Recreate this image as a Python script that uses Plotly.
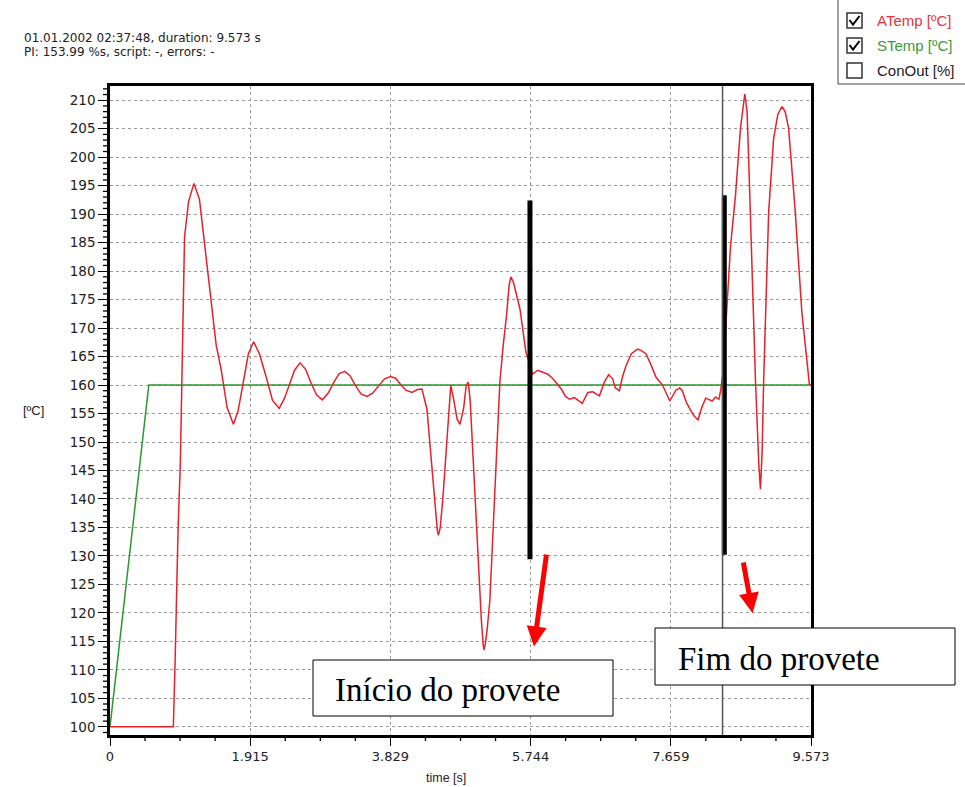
import plotly.graph_objects as go

# ---------------- data ----------------
atemp_t = [0, 0.865, 0.89, 0.93, 0.96, 0.99, 1.018, 1.073, 1.146, 1.222, 1.30, 1.381, 1.45, 1.517,
           1.60, 1.685, 1.75, 1.812, 1.89, 1.962, 2.04, 2.129, 2.22, 2.31, 2.38, 2.446, 2.52, 2.596,
           2.67, 2.741, 2.82, 2.90, 2.98, 3.058, 3.13, 3.207, 3.28, 3.353, 3.43, 3.512, 3.59, 3.670,
           3.75, 3.829, 3.90, 3.964, 4.04, 4.124, 4.20, 4.26, 4.30, 4.328, 4.36, 4.396, 4.44, 4.47,
           4.485, 4.51, 4.545, 4.577, 4.62, 4.654, 4.70, 4.74, 4.78, 4.83, 4.865, 4.893, 4.92, 4.953,
           4.99, 5.029, 5.07, 5.095, 5.107, 5.125, 5.15, 5.188, 5.23, 5.270, 5.324, 5.37, 5.415, 5.45,
           5.474, 5.51, 5.55, 5.598, 5.64, 5.679, 5.738, 5.769, 5.84, 5.913, 5.98, 6.049, 6.163, 6.22,
           6.276, 6.344, 6.40, 6.449, 6.525, 6.593, 6.684, 6.75, 6.81, 6.865, 6.90, 6.956, 7.00, 7.047,
           7.12, 7.205, 7.26, 7.319, 7.39, 7.455, 7.545, 7.60, 7.645, 7.727, 7.78, 7.816, 7.87, 7.931,
           7.98, 8.03, 8.08, 8.135, 8.18, 8.224, 8.27, 8.315, 8.339, 8.37, 8.415, 8.475, 8.542, 8.61,
           8.669, 8.70, 8.723, 8.768, 8.814, 8.859, 8.882, 8.905, 8.927, 8.995, 9.063, 9.12, 9.176,
           9.22, 9.267, 9.358, 9.448, 9.55, 9.573]
atemp_v = [100, 100, 112, 135, 146, 170, 186, 192.2, 195.4, 192.6, 184, 174.6, 167, 162.8,
           156, 153.1, 155.5, 159.9, 165.5, 167.6, 165.5, 161.6, 157.3, 155.9, 157.6, 159.9, 162.6, 163.9,
           162.8, 160.5, 158.3, 157.4, 158.6, 160.5, 162.0, 162.4, 161.6, 159.9, 158.4, 158.0, 158.6, 159.9,
           161.1, 161.5, 161.2, 160.2, 159.1, 158.7, 159.2, 159.3, 157.5, 155.8, 151, 145.8, 138, 134.5,
           133.6, 135, 140, 145.8, 155, 160.0, 157, 154, 153.1, 156, 160, 160.5, 157, 148.7,
           138, 128.2, 119, 114.5, 113.5, 114.5, 117, 122.3, 134, 145.8, 160.5, 167, 172.2, 177.5,
           179.0, 178, 176, 173.4, 169.5, 165.8, 163.5, 161.9, 162.6, 162.3, 161.9, 161.1, 159.3, 158.0,
           157.5, 157.8, 157.3, 156.8, 158.7, 158.8, 158.1, 160.5, 161.8, 161.1, 159.5, 159.0, 161.5, 163.4,
           165.5, 166.3, 166, 165.5, 163.5, 161.4, 160.0, 158.5, 157.2, 159.1, 159.5, 159.0, 157.0, 155.5,
           154.5, 153.9, 156, 157.7, 157.5, 157.2, 157.9, 157.5, 159.0, 162, 171.6, 184.5, 193.3, 205.1,
           211.1, 208, 199.2, 178.7, 161.1, 146.4, 141.7, 148, 161.1, 190.4, 203.3, 207.5, 208.9,
           208, 205.1, 190.4, 172.8, 160.2, 160]

stemp_t = [0, 0.53, 9.573]
stemp_v = [100, 160, 160]

x_range = [0, 9.573]
y_range = [98.56, 212.5]
xtick_vals = [0, 1.9146, 3.8292, 5.7438, 7.6584, 9.573]
xtick_text = ["0", "1.915", "3.829", "5.744", "7.659", "9.573"]
x_minor_step = 1.9146 / 4
y_minor_range = (99, 212)

marker_t = [5.735, 8.389]
marker_lo = [129.4, 130.2]
marker_hi = [192.4, 193.3]
cursor_t = 8.365

arrow_head = [(5.79, 114.1), (8.775, 120.0)]
arrow_tail = [(5.963, 130.5), (8.645, 129.1)]

box_labels = ["Início do provete", "Fim do provete"]
legend_names = ["ATemp [ºC]", "STemp [ºC]", "ConOut [%]"]
legend_colors = ["#e8333a", "#3a9a3a", "#222222"]
legend_checked = [True, True, False]
header_lines = ["01.01.2002 02:37:48, duration: 9.573 s", "PI: 153.99 %s, script: -, errors: -"]

# ---------------- page geometry ----------------
W, H = 965, 787
L, R, T, B = 110, 811, 86, 735


def px(x):
    return (x - L) / (R - L)


def py(y):
    return (B - y) / (B - T)


def xpaper(v):
    return (v - x_range[0]) / (x_range[1] - x_range[0])


def ypaper(v):
    return (v - y_range[0]) / (y_range[1] - y_range[0])


fig = go.Figure()
fig.add_trace(go.Scatter(x=stemp_t, y=stemp_v, mode="lines",
                         line=dict(color="#2e962e", width=1.5), hoverinfo="skip"))
fig.add_trace(go.Scatter(x=atemp_t, y=atemp_v, mode="lines",
                         line=dict(color="#e8202a", width=1.5), hoverinfo="skip"))

mx, my = [], []
for t, lo, hi in zip(marker_t, marker_lo, marker_hi):
    mx += [t, t, None]
    my += [lo, hi, None]
fig.add_trace(go.Scatter(x=mx, y=my, mode="lines", line=dict(color="black", width=5),
                         hoverinfo="skip"))

shapes = []
# minor ticks (short lines outside the axes, in paper units so they are not clipped)
for v in range(y_minor_range[0], y_minor_range[1] + 1):
    if v % 5:
        yp = ypaper(v)
        shapes.append(dict(type="line", xref="paper", yref="paper", x0=px(103), x1=px(109),
                           y0=yp, y1=yp, line=dict(color="black", width=1.3), layer="above"))
for k in range(1, 20):
    if k % 4:
        xp = xpaper(k * x_minor_step)
        shapes.append(dict(type="line", xref="paper", yref="paper", x0=xp, x1=xp,
                           y0=py(736), y1=py(741), line=dict(color="black", width=1.3),
                           layer="above"))

shapes.append(dict(type="line", xref="x", yref="paper", x0=cursor_t, x1=cursor_t, y0=0, y1=1,
                   line=dict(color="#555555", width=1.5), layer="above"))
# text boxes
shapes.append(dict(type="rect", xref="paper", yref="paper", x0=px(313), x1=px(613),
                   y0=py(716), y1=py(660), fillcolor="white", line=dict(color="black", width=1),
                   layer="above"))
shapes.append(dict(type="rect", xref="paper", yref="paper", x0=px(655), x1=px(955),
                   y0=py(685), y1=py(628), fillcolor="white", line=dict(color="black", width=1),
                   layer="above"))
# legend box
shapes.append(dict(type="rect", xref="paper", yref="paper", x0=px(838), x1=px(980),
                   y0=py(84), y1=py(-10), fillcolor="white", line=dict(color="#444444", width=1),
                   layer="above"))

annotations = []
for i, (name, col, chk) in enumerate(zip(legend_names, legend_colors, legend_checked)):
    top = 13 + 25 * i
    shapes.append(dict(type="rect", xref="paper", yref="paper", x0=px(847), x1=px(862),
                       y0=py(top + 15), y1=py(top), fillcolor="white",
                       line=dict(color="#333333", width=1.5), layer="above"))
    if chk:
        path = "M {},{} L {},{} L {},{}".format(px(849.5), py(top + 7), px(853), py(top + 11.5),
                                                  px(859.5), py(top + 3))
        shapes.append(dict(type="path", xref="paper", yref="paper", path=path,
                           line=dict(color="black", width=2), layer="above"))
    annotations.append(dict(xref="paper", yref="paper", x=px(875), y=py(top + 7.5),
                            xanchor="left", yanchor="middle", showarrow=False, text=name,
                            font=dict(family="Liberation Sans, Arial", size=15, color=col)))

annotations.append(dict(xref="paper", yref="paper", x=px(333), y=py(690), xanchor="left",
                        yanchor="middle", showarrow=False, text=box_labels[0],
                        font=dict(family="Liberation Serif", size=33, color="black")))
annotations.append(dict(xref="paper", yref="paper", x=px(676), y=py(659), xanchor="left",
                        yanchor="middle", showarrow=False, text=box_labels[1],
                        font=dict(family="Liberation Serif", size=33, color="black")))

for (hx, hy), (tx, ty) in zip(arrow_head, arrow_tail):
    annotations.append(dict(x=hx, y=hy, ax=tx, ay=ty, xref="x", yref="y", axref="x", ayref="y",
                            text="", showarrow=True, arrowhead=2, arrowsize=0.8, arrowwidth=5,
                            arrowcolor="#ff0000"))

for j, line in enumerate(header_lines):
    annotations.append(dict(xref="paper", yref="paper", x=px(22), y=py(37.5 + 14.5 * j),
                            xanchor="left", yanchor="middle", showarrow=False, text=line,
                            font=dict(family="DejaVu Sans", size=12, color="#222222")))

annotations.append(dict(xref="paper", yref="paper", x=px(33), y=py(410), xanchor="center",
                        yanchor="middle", showarrow=False, text="[ºC]",
                        font=dict(family="Liberation Sans, Arial", size=13, color="#222222")))
annotations.append(dict(xref="paper", yref="paper", x=px(446), y=py(778), xanchor="center",
                        yanchor="middle", showarrow=False, text="time [s]",
                        font=dict(family="Liberation Sans, Arial", size=12.5, color="#222222")))

fig.update_layout(
    width=W, height=H,
    margin=dict(l=L, r=W - R, t=T, b=H - B, pad=0),
    paper_bgcolor="white", plot_bgcolor="white",
    showlegend=False,
    shapes=shapes, annotations=annotations,
    xaxis=dict(range=x_range, tickmode="array", tickvals=xtick_vals, ticktext=xtick_text,
               showline=True, linecolor="black", linewidth=2.5, mirror=True,
               ticks="outside", ticklen=8, tickcolor="black", tickwidth=1,
               tickfont=dict(family="DejaVu Sans", size=13, color="#222222"),
               showgrid=True, gridcolor="#9a9a9a", gridwidth=1, griddash="3px,3px",
               zeroline=False),
    yaxis=dict(range=y_range, tickmode="linear", tick0=100, dtick=5,
               showline=True, linecolor="black", linewidth=2.5, mirror=True,
               ticks="outside", ticklen=9, tickcolor="black", tickwidth=1,
               tickfont=dict(family="DejaVu Sans", size=13.5, color="#222222"),
               showgrid=True, gridcolor="#9a9a9a", gridwidth=1, griddash="3px,3px",
               zeroline=False),
)

fig.write_html("out.html")
